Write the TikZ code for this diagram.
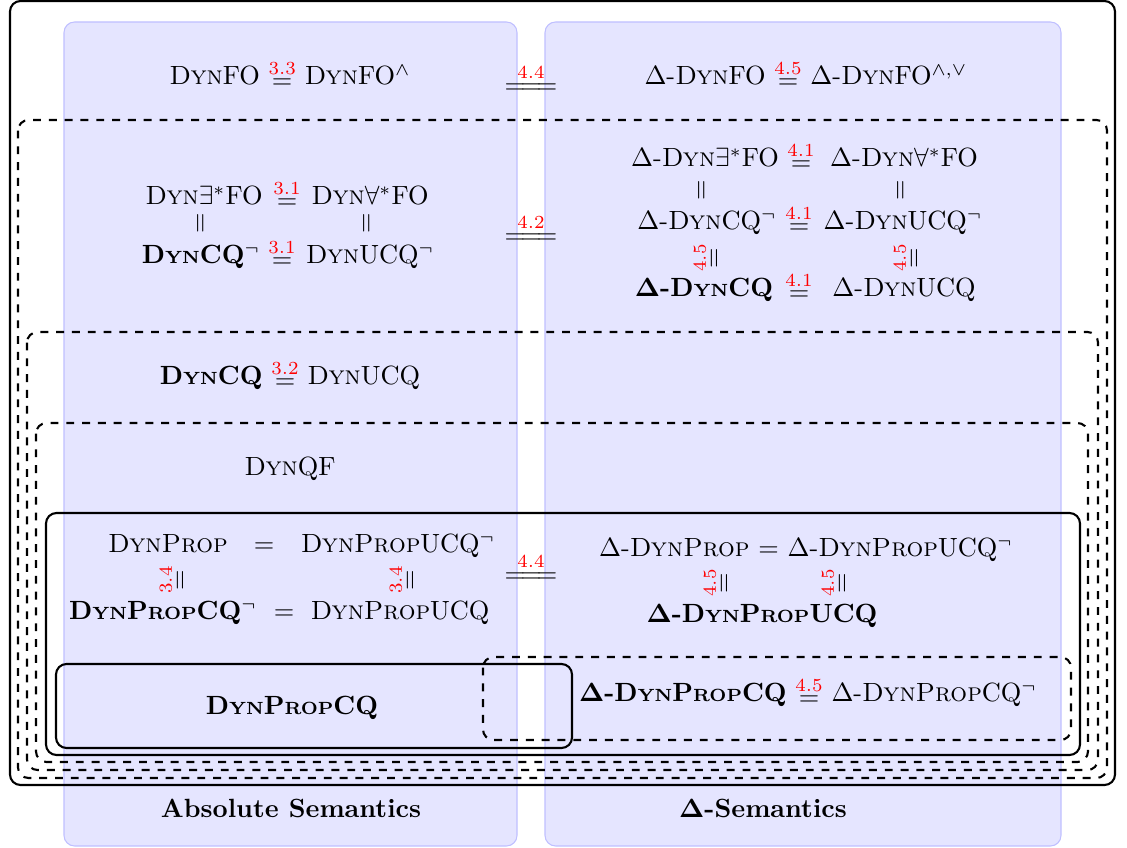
\documentclass[tikz,border=0pt]{standalone}
\usepackage{amsmath}
\newcommand\Dyn{\textsc{Dyn}}
\newcommand\smc[1]{{\fontsize{6.7}{8}\selectfont #1}}
\newcommand\BDyn{D\smc{YN}}
\newcommand\BProp{P\smc{ROP}}
\newcommand\vreq[1]{\overset{\textcolor{red}{#1}}{=}}
\newcommand\req[1]{\mathrel{\raisebox{-1.5pt}{$\overset{\textcolor{red}{#1}}{=}$}}}
\newcommand\lequ[1]{\overset{\textcolor{red}{#1}}{=\joinrel=\joinrel=}}
\tikzset{
  panel/.style={fill=blue!10, draw=blue!25, rounded corners=4pt},
  solidbox/.style={draw, thick, rounded corners=4pt},
  dashbox/.style={draw, thick, dashed, rounded corners=4pt},
  lbl/.style={inner sep=0pt, anchor=base},
  cen/.style={inner sep=0pt},
  vrel/.style={rotate=90, inner sep=0pt},
}
\begin{document}
\begin{tikzpicture}[x=0.3795pt,y=-0.3795pt]
\useasboundingbox (0,0) rectangle (1127,848);
% panels
\draw[panel] (64,22) rectangle (517,846);
\draw[panel] (545,22) rectangle (1061,846);
% boxes
\draw[solidbox] (10,1) rectangle (1115,785);
\draw[dashbox] (18,120) rectangle (1107,778);
\draw[dashbox] (27,332) rectangle (1098,770);
\draw[dashbox] (36,423) rectangle (1088,762);
\draw[solidbox] (46,513) rectangle (1080,755);
\draw[solidbox] (56,664) rectangle (572,748);
\draw[dashbox] (483,657) rectangle (1071,740);
% top row
\node[lbl] (fo) at (290,85) {\Dyn FO $\req{3.3}$ \Dyn FO$^{\wedge}$};
\node[cen] (e44a) at (531,79) {$\lequ{4.4}$};
\node[lbl] (dfo) at (806,85) {$\Delta$-\Dyn FO $\req{4.5}$ $\Delta$-\Dyn FO$^{\wedge,\vee}$};
% left FO block
\node[lbl] (ex) at (204,205) {\Dyn$\exists^*$FO};
\node[lbl] (e31a) at (287,205) {$\req{3.1}$};
\node[lbl] (fa) at (370,205) {\Dyn$\forall^*$FO};
\node[vrel] (v1) at (202,223) {$=$};
\node[vrel] (v2) at (368,223) {$=$};
\node[lbl] (cqn) at (201,264) {\textbf{\BDyn CQ}$^\neg$};
\node[lbl] (e31b) at (282,264) {$\req{3.1}$};
\node[lbl] (ucqn) at (370,264) {\Dyn UCQ$^\neg$};
\node[cen] (e42) at (531,229) {$\lequ{4.2}$};
% right FO block
\node[lbl] (dex) at (705,167) {$\Delta$-\Dyn$\exists^*$FO};
\node[lbl] (e41a) at (801,167) {$\req{4.1}$};
\node[lbl] (dfa) at (904,167) {$\Delta$-\Dyn$\forall^*$FO};
\node[vrel] (v3) at (703,190) {$=$};
\node[vrel] (v4) at (902,190) {$=$};
\node[lbl] (dcqn) at (707,230) {$\Delta$-\Dyn CQ$^\neg$};
\node[lbl] (e41b) at (799,230) {$\req{4.1}$};
\node[lbl] (ducqn) at (903,230) {$\Delta$-\Dyn UCQ$^\neg$};
\node[vrel] (v5) at (706,258) {$\vreq{4.5}$};
\node[vrel] (v6) at (906,258) {$\vreq{4.5}$};
\node[lbl] (dcq) at (704,297) {\textbf{$\mathbf{\Delta}$-\BDyn CQ}};
\node[lbl] (e41c) at (799,297) {$\req{4.1}$};
\node[lbl] (ducq) at (904,297) {$\Delta$-\Dyn UCQ};
% CQ level
\node[lbl] (cq) at (290,385) {\textbf{\BDyn CQ} $\req{3.2}$ \Dyn UCQ};
% QF level
\node[lbl] (qf) at (290,476) {\Dyn QF};
% left Prop block
\node[lbl] (prop) at (168,553) {\textsc{DynProp}};
\node[lbl] (pe1) at (264,553) {$=$};
\node[lbl] (pucqn) at (398,553) {\textsc{DynProp}UCQ$^\neg$};
\node[vrel] (v7) at (172,580) {$\vreq{3.4}$};
\node[vrel] (v8) at (402,580) {$\vreq{3.4}$};
\node[lbl] (pcqn) at (163,620) {\textbf{\BDyn\BProp CQ}$^\neg$};
\node[lbl] (pe2) at (284,620) {$=$};
\node[lbl] (pucq) at (400,620) {\textsc{DynProp}UCQ};
\node[cen] (e44b) at (531,568) {$\lequ{4.4}$};
% right Prop block
\node[lbl] (dprop) at (806,557) {$\Delta$-\textsc{DynProp} $=$ $\Delta$-\textsc{DynProp}UCQ$^\neg$};
\node[vrel] (v9) at (716,583) {$\vreq{4.5}$};
\node[vrel] (v10) at (834,583) {$\vreq{4.5}$};
\node[lbl] (dpucq) at (762,623) {\textbf{$\mathbf{\Delta}$-\BDyn\BProp UCQ}};
% bottom
\node[lbl] (pcq) at (292,715) {\textbf{\BDyn\BProp CQ}};
\node[lbl] (dpcq) at (808,702) {\textbf{$\mathbf{\Delta}$-\BDyn\BProp CQ} $\req{4.5}$ $\Delta$-\textsc{DynProp}CQ$^\neg$};
% captions
\node[lbl] (abs) at (291,818) {\textbf{Absolute Semantics}};
\node[lbl] (dsem) at (763,818) {\textbf{$\mathbf{\Delta}$-Semantics}};
\end{tikzpicture}
\end{document}
